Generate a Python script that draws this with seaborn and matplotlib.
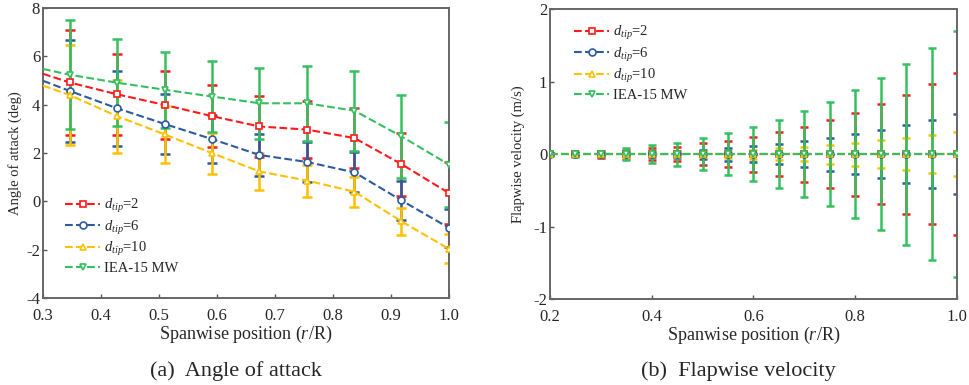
import matplotlib
matplotlib.use('Agg')
import matplotlib.pyplot as plt
import seaborn as sns

# (a) angle of attack, first point at r/R=0.3 is line start only (no marker)
x_aoa = [0.3, 0.346, 0.428, 0.510, 0.591, 0.673, 0.755, 0.837, 0.918, 1.0]
aoa_d2 = [5.28, 4.92, 4.43, 3.99, 3.53, 3.10, 2.97, 2.62, 1.54, 0.34]
aoa_d6 = [4.99, 4.57, 3.85, 3.20, 2.58, 1.92, 1.63, 1.20, 0.04, -1.10]
aoa_d10 = [4.79, 4.40, 3.52, 2.77, 2.00, 1.24, 0.86, 0.40, -0.83, -1.97]
aoa_iea = [5.48, 5.24, 4.91, 4.62, 4.34, 4.06, 4.06, 3.75, 2.69, 1.52]
aoa_err_d2 = [2.17, 1.69, 1.39, 1.27, 1.25, 1.17, 1.24, 1.30, 1.27]
aoa_err_d6 = [2.10, 1.56, 1.24, 1.00, 0.86, 0.83, 0.83, 0.82, 0.80]
aoa_err_d10 = [2.06, 1.50, 1.18, 0.85, 0.75, 0.66, 0.62, 0.57, 0.60]
aoa_err_iea = [2.26, 1.79, 1.57, 1.47, 1.47, 1.55, 1.65, 1.73, 1.77]

# (b) flapwise velocity
x_flap = [0.2, 0.25, 0.3, 0.35, 0.4, 0.45, 0.5, 0.55, 0.6, 0.65, 0.7, 0.75, 0.8, 0.85, 0.9, 0.95, 1.0]
flap_mean = [0, 0, 0, 0, 0, 0, 0, 0, 0, 0, 0, 0, 0, 0, 0, 0, 0]
flap_err_d2 = [0.01, 0.02, 0.05, 0.06, 0.08, 0.10, 0.15, 0.18, 0.24, 0.30, 0.38, 0.47, 0.57, 0.69, 0.82, 0.97, 1.12]
flap_err_d6 = [0.01, 0.01, 0.02, 0.03, 0.04, 0.05, 0.06, 0.09, 0.11, 0.14, 0.18, 0.23, 0.28, 0.33, 0.40, 0.47, 0.55]
flap_err_d10 = [0.01, 0.03, 0.03, 0.05, 0.03, 0.04, 0.04, 0.05, 0.06, 0.08, 0.10, 0.13, 0.16, 0.19, 0.22, 0.26, 0.30]
flap_err_iea = [0.02, 0.04, 0.04, 0.08, 0.12, 0.16, 0.22, 0.29, 0.37, 0.47, 0.59, 0.72, 0.88, 1.05, 1.25, 1.46, 1.70]

labels = ['$d_{tip}$=2', '$d_{tip}$=6', '$d_{tip}$=10', 'IEA-15 MW']
colors = ['#ff1a1a', '#2e5b9e', '#ffc000', '#35c060']
markers = ['s', 'o', '^', 'v']

sns.set_style('ticks')
plt.rcParams['font.family'] = ['Liberation Serif', 'DejaVu Serif']
plt.rcParams['mathtext.fontset'] = 'custom'
plt.rcParams['mathtext.rm'] = 'Liberation Serif'
plt.rcParams['mathtext.it'] = 'Liberation Serif:italic'
plt.rcParams['axes.unicode_minus'] = False
plt.rcParams['xtick.direction'] = 'in'
plt.rcParams['ytick.direction'] = 'in'

fig = plt.figure(figsize=(9.69, 3.85), dpi=100)
ax1 = fig.add_axes([0.0444, 0.226, 0.419, 0.753])
ax2 = fig.add_axes([0.5676, 0.223, 0.42, 0.753])

aoa_series = [aoa_d2, aoa_d6, aoa_d10, aoa_iea]
aoa_errs = [aoa_err_d2, aoa_err_d6, aoa_err_d10, aoa_err_iea]
for y, e, c, m, lab in zip(aoa_series, aoa_errs, colors, markers, labels):
    ax1.errorbar(x_aoa[1:], y[1:], yerr=e, fmt='none', ecolor=c, elinewidth=1.8,
                 capsize=3.6, capthick=1.8, zorder=2)
    sns.lineplot(x=x_aoa, y=y, ax=ax1, color=c, linestyle='--', dashes=(4, 2.5),
                 linewidth=1.5, marker=m, markevery=list(range(1, len(x_aoa))),
                 markersize=5, markerfacecolor='white', markeredgecolor=c,
                 markeredgewidth=1.2, label=lab, zorder=3, estimator=None, sort=False)

flap_errs = [flap_err_d2, flap_err_d6, flap_err_d10, flap_err_iea]
for e, c, m, lab in zip(flap_errs, colors, markers, labels):
    ax2.errorbar(x_flap, flap_mean, yerr=e, fmt='none', ecolor=c, elinewidth=1.8,
                 capsize=3.2, capthick=1.8, zorder=2)
    sns.lineplot(x=x_flap, y=flap_mean, ax=ax2, color=c, linestyle='--', dashes=(4, 2.5),
                 linewidth=1.5, marker=m, markersize=5, markerfacecolor='white',
                 markeredgecolor=c, markeredgewidth=1.2, label=lab, zorder=3,
                 estimator=None, sort=False)

ax1.set_xlim(0.3, 1.0)
ax1.set_ylim(-4, 8)
ax1.set_xticks([0.3, 0.4, 0.5, 0.6, 0.7, 0.8, 0.9, 1.0])
ax1.set_yticks([-4, -2, 0, 2, 4, 6, 8])
ax1.set_ylabel('Angle of attack (deg)', fontsize=10.5, labelpad=3)

ax2.set_xlim(0.2, 1.0)
ax2.set_ylim(-2, 2)
ax2.set_xticks([0.2, 0.4, 0.6, 0.8, 1.0])
ax2.set_yticks([-2, -1, 0, 1, 2])
ax2.set_ylabel('Flapwise velocity (m/s)', fontsize=10.5, labelpad=6)

for ax in (ax1, ax2):
    ax.set_xlabel('Spanwise position ($r$/R)', fontsize=13, labelpad=0)
    ax.xaxis.set_major_formatter(matplotlib.ticker.FormatStrFormatter('%.1f'))
    ax.tick_params(labelsize=12, length=3, width=1, color='#555555', pad=2)
    ax.tick_params(axis='x', pad=7)
    for s in ax.spines.values():
        s.set_color('#666666')
        s.set_linewidth(1.4)

ax1.legend(loc='lower left', bbox_to_anchor=(0.04, 0.06), frameon=False, fontsize=10.5,
           handlelength=2.4, handletextpad=0.25, labelspacing=0.24, borderaxespad=0)
ax2.legend(loc='upper left', bbox_to_anchor=(0.045, 0.969), frameon=False, fontsize=10.5,
           handlelength=2.4, handletextpad=0.25, labelspacing=0.24, borderaxespad=0)

fig.text(0.244, 0.036, '(a)  Angle of attack', ha='center', va='center', fontsize=16)
fig.text(0.762, 0.036, '(b)  Flapwise velocity', ha='center', va='center', fontsize=16)

fig.savefig('out.png', dpi=100)
